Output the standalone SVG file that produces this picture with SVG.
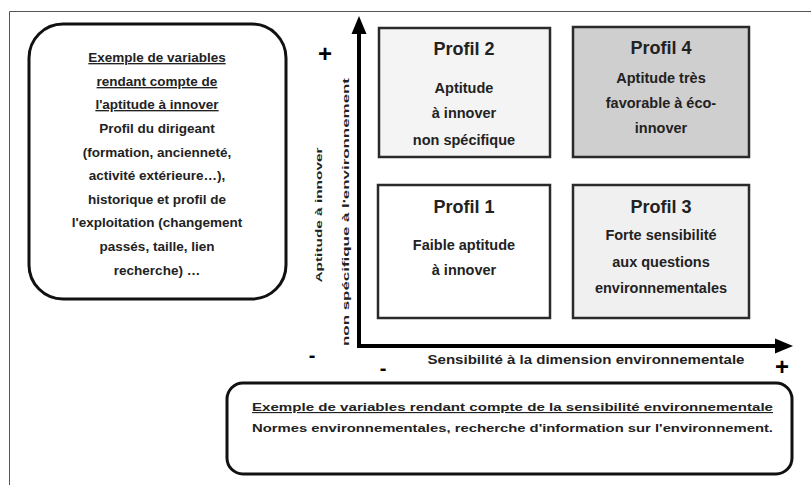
<svg xmlns="http://www.w3.org/2000/svg" width="811" height="485" viewBox="0 0 811 485">
<style>
text{font-family:"Liberation Sans",Arial,sans-serif;font-weight:bold;fill:#222}
.box{fill:#fff;stroke:#111;stroke-width:3}
.pf{stroke:#2a2a2a;stroke-width:2.5}
.t13{font-size:13.5px;text-anchor:middle}
.ttl{font-size:18px;text-anchor:middle}
.body{font-size:14.5px;text-anchor:middle}
.ul{text-decoration:underline}
.ax{stroke:#000;stroke-width:4;fill:none}
.sign{font-size:24px;text-anchor:middle;fill:#000}
</style>
<rect width="811" height="485" fill="#fff"/>
<path d="M9.5,485 V11.5 H811" fill="none" stroke="#555" stroke-width="1"/>

<g id="aptitude-box">
<rect class="box" x="29" y="24" width="257" height="275" rx="34"/>
<text class="t13 ul" x="157" y="62">Exemple de variables</text>
<text class="t13 ul" x="157" y="86">rendant compte de</text>
<text class="t13 ul" x="157" y="109">l'aptitude à innover</text>
<text class="t13" x="157" y="133">Profil du dirigeant</text>
<text class="t13" x="157" y="157">(formation, ancienneté,</text>
<text class="t13" x="157" y="180">activité extérieure…),</text>
<text class="t13" x="157" y="204">historique et profil de</text>
<text class="t13" x="157" y="227">l'exploitation (changement</text>
<text class="t13" x="157" y="251">passés, taille, lien</text>
<text class="t13" x="157" y="275">recherche) …</text>
</g>

<g id="axes">
<path class="ax" d="M359,348 V30"/>
<polygon points="359,16 351.5,34 366.5,34" fill="#000"/>
<path class="ax" d="M357,346 H778"/>
<polygon points="793,346 775,338.5 775,353.5" fill="#000"/>
</g>

<g id="axis-labels">
<text class="sign" x="325" y="62">+</text>
<text class="sign" x="312" y="362" style="font-size:20px">-</text>
<text class="sign" x="383" y="375" style="font-size:20px">-</text>
<text class="sign" x="782" y="375">+</text>
<text x="586" y="364" style="font-size:12px;text-anchor:middle" textLength="317" lengthAdjust="spacingAndGlyphs">Sensibilité à la dimension environnementale</text>
<text transform="translate(322,215) rotate(-90)" style="font-size:9.5px;text-anchor:middle" textLength="135" lengthAdjust="spacingAndGlyphs">Aptitude à innover</text>
<text transform="translate(349,212) rotate(-90)" style="font-size:9.5px;text-anchor:middle" textLength="268" lengthAdjust="spacingAndGlyphs">non spécifique à l'environnement</text>
</g>

<g id="profil2">
<rect class="pf" x="379" y="28" width="171" height="129" fill="#f4f4f4"/>
<text class="ttl" x="464" y="55">Profil 2</text>
<text class="body" x="464" y="93">Aptitude</text>
<text class="body" x="464" y="118">à innover</text>
<text class="body" x="464" y="145">non spécifique</text>
</g>

<g id="profil4">
<rect class="pf" x="573" y="27" width="176" height="130" fill="#cfcfcf"/>
<text class="ttl" x="661" y="54">Profil 4</text>
<text class="body" x="661" y="83">Aptitude très</text>
<text class="body" x="661" y="108">favorable à éco-</text>
<text class="body" x="661" y="133">innover</text>
</g>

<g id="profil1">
<rect class="pf" x="378" y="185" width="172" height="133" fill="#fff"/>
<text class="ttl" x="464" y="213">Profil 1</text>
<text class="body" x="464" y="250">Faible aptitude</text>
<text class="body" x="464" y="275">à innover</text>
</g>

<g id="profil3">
<rect class="pf" x="573" y="185" width="176" height="133" fill="#f0f0f0"/>
<text class="ttl" x="661" y="213">Profil 3</text>
<text class="body" x="661" y="240">Forte sensibilité</text>
<text class="body" x="661" y="267">aux questions</text>
<text class="body" x="661" y="293">environnementales</text>
</g>

<g id="sensibilite-box">
<rect class="box" x="227" y="383" width="565" height="91" rx="16"/>
<text class="ul" x="252" y="411" style="font-size:11.5px" textLength="521" lengthAdjust="spacingAndGlyphs">Exemple de variables rendant compte de la sensibilité environnementale</text>
<text x="252" y="432" style="font-size:11.5px" textLength="521" lengthAdjust="spacingAndGlyphs">Normes environnementales, recherche d'information sur l'environnement.</text>
</g>
</svg>
